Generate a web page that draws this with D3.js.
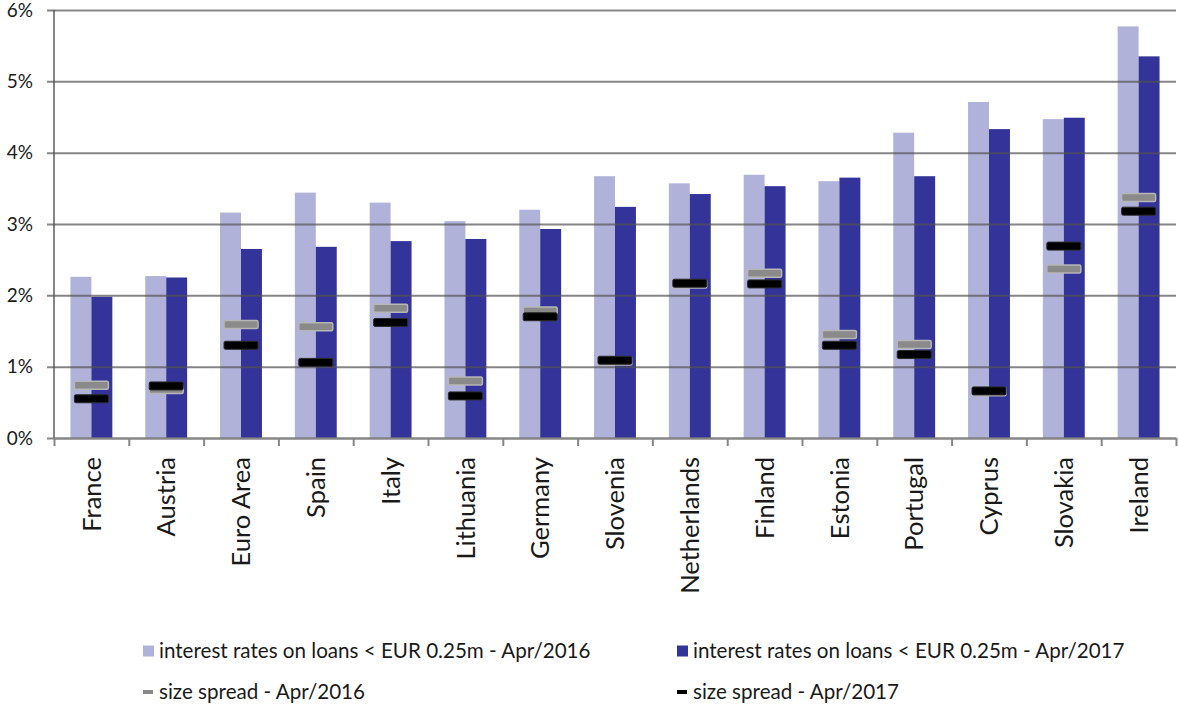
<!DOCTYPE html>
<html>
<head>
<meta charset="utf-8">
<script src="https://cdn.jsdelivr.net/npm/d3@7"></script>
<style>
  body { margin: 0; background: #fff; }
  text { font-family: Lato, "Open Sans", sans-serif; fill: #1a1a1a; }
  .axis path, .axis line { stroke: #868686; stroke-width: 2; }
</style>
</head>
<body>
<div id="root"></div>
<script>
const countries = ["France", "Austria", "Euro Area", "Spain", "Italy", "Lithuania", "Germany", "Slovenia",
    "Netherlands", "Finland", "Estonia", "Portugal", "Cyprus", "Slovakia", "Ireland"];

// interest rates on loans < EUR 0.25m (%)
const rates2016 = [2.26, 2.27, 3.16, 3.44, 3.30, 3.04, 3.20, 3.67, 3.57, 3.69, 3.60, 4.28, 4.71, 4.47, 5.77];
const rates2017 = [1.98, 2.25, 2.65, 2.68, 2.76, 2.79, 2.93, 3.24, 3.42, 3.53, 3.65, 3.67, 4.33, 4.49, 5.35];

// size spread (%)
const spread2016 = [0.74, 0.68, 1.59, 1.56, 1.82, 0.80, 1.78, 1.08, 2.16, 2.31, 1.45, 1.31, 0.65, 2.37, 3.37];
const spread2017 = [0.55, 0.73, 1.30, 1.06, 1.62, 0.59, 1.70, 1.09, 2.17, 2.16, 1.30, 1.17, 0.66, 2.69, 3.18];

const yTicks = [0, 1, 2, 3, 4, 5, 6];
const series = ["Apr/2016", "Apr/2017"];
const legendLabels = [
    "interest rates on loans < EUR 0.25m - Apr/2016",
    "interest rates on loans < EUR 0.25m - Apr/2017",
    "size spread - Apr/2016",
    "size spread - Apr/2017"
];

const W = 1179, H = 708,
    margin = {top: 10, right: 3, bottom: 270, left: 54},
    width = W - margin.left - margin.right,
    height = H - margin.top - margin.bottom;

const barColors = ["#b1b2d9", "#333399"];

const svg = d3.select("#root").append("svg")
    .attr("width", W)
    .attr("height", H);

const g = svg.append("g")
    .attr("transform", "translate(" + margin.left + "," + margin.top + ")");

const data = countries.map((c, i) => ({
    country: c,
    rates: [rates2016[i], rates2017[i]],
    s16: spread2016[i],
    s17: spread2017[i]
}));

const x0 = d3.scaleBand()
    .domain(countries)
    .range([0, width])
    .paddingInner(0.44)
    .paddingOuter(0.22);

const x1 = d3.scaleBand()
    .domain(series)
    .range([0, x0.bandwidth()]);

const y = d3.scaleLinear()
    .domain([0, 6])
    .range([height, 0]);

// bars
const groups = g.selectAll(".grp")
    .data(data)
    .enter()
    .append("g")
    .attr("class", "grp")
    .attr("transform", (d) => "translate(" + x0(d.country) + ",0)");

groups.selectAll("rect")
    .data((d) => d.rates.map((v, j) => ({key: series[j], v: v, j: j})))
    .enter()
    .append("rect")
    .attr("x", (d) => x1(d.key))
    .attr("y", (d) => y(d.v))
    .attr("width", x1.bandwidth())
    .attr("height", (d) => height - y(d.v))
    .style("fill", (d) => barColors[d.j]);

// gridlines + y axis
const yAxis = d3.axisLeft(y)
    .tickValues(yTicks)
    .tickSize(7)
    .tickPadding(14)
    .tickFormat((d) => d + "%");

const yAx = g.append("g")
    .attr("class", "axis axis-y")
    .call(yAxis);
yAx.selectAll(".tick line")
    .attr("x1", -7)
    .attr("x2", width)
    .style("stroke", "#525252")
    .style("stroke-opacity", 0.7);
yAx.select(".domain").attr("d", "M0," + y(6) + "V" + height);
yAx.selectAll("text")
    .style("font-size", "19px");

// markers for size spread
const mw = 34, mh = 8;
const cx = (d) => x0(d.country) + x0.bandwidth() / 2;

g.selectAll(".m16")
    .data(data)
    .enter()
    .append("rect")
    .attr("class", "m16")
    .attr("x", (d) => cx(d) - mw / 2)
    .attr("y", (d) => y(d.s16) - mh / 2)
    .attr("width", mw)
    .attr("height", mh)
    .attr("rx", 1.5)
    .style("fill", "#8a8a8a")
    .style("stroke", "#b6b6b6")
    .style("stroke-width", 1.5);

g.selectAll(".m17")
    .data(data)
    .enter()
    .append("rect")
    .attr("class", "m17")
    .attr("x", (d) => cx(d) - mw / 2)
    .attr("y", (d) => y(d.s17) - mh / 2)
    .attr("width", mw)
    .attr("height", mh)
    .attr("rx", 1.5)
    .style("fill", "#000")
    .style("stroke", "#2a2a2a")
    .style("stroke-width", 1);

// x axis: boundary ticks + rotated labels
const xb = d3.scaleLinear().domain([0, countries.length]).range([0, width]);
g.append("g")
    .attr("class", "axis axis-x")
    .attr("transform", "translate(0," + height + ")")
    .call(d3.axisBottom(xb).tickValues(d3.range(countries.length + 1)).tickSize(8).tickSizeOuter(0).tickFormat(""));

g.append("g")
    .selectAll("text")
    .data(countries)
    .enter()
    .append("text")
    .attr("transform", (d) => "translate(" + (x0(d) + x0.bandwidth() / 2) + "," + (height + 19) + ") rotate(-90)")
    .attr("text-anchor", "end")
    .attr("dy", "0.36em")
    .style("font-size", "25.5px")
    .text((d) => d);

// legend
const legend = svg.append("g").attr("class", "legend");
const legPos = [[143, 651], [677, 651], [143, 692], [677, 692]];
const legMark = [
    {w: 11, h: 11, fill: barColors[0]},
    {w: 11, h: 11, fill: barColors[1]},
    {w: 10, h: 4, fill: "#8a8a8a"},
    {w: 10, h: 4, fill: "#000"}
];

legendLabels.forEach((lab, i) => {
    const [lx, ly] = legPos[i];
    legend.append("rect")
        .attr("x", lx)
        .attr("y", ly - legMark[i].h / 2)
        .attr("width", legMark[i].w)
        .attr("height", legMark[i].h)
        .style("fill", legMark[i].fill);
    legend.append("text")
        .attr("x", lx + 16)
        .attr("y", ly)
        .attr("dy", "0.35em")
        .style("font-size", "20.6px")
        .text(lab);
});
</script>
</body>
</html>
